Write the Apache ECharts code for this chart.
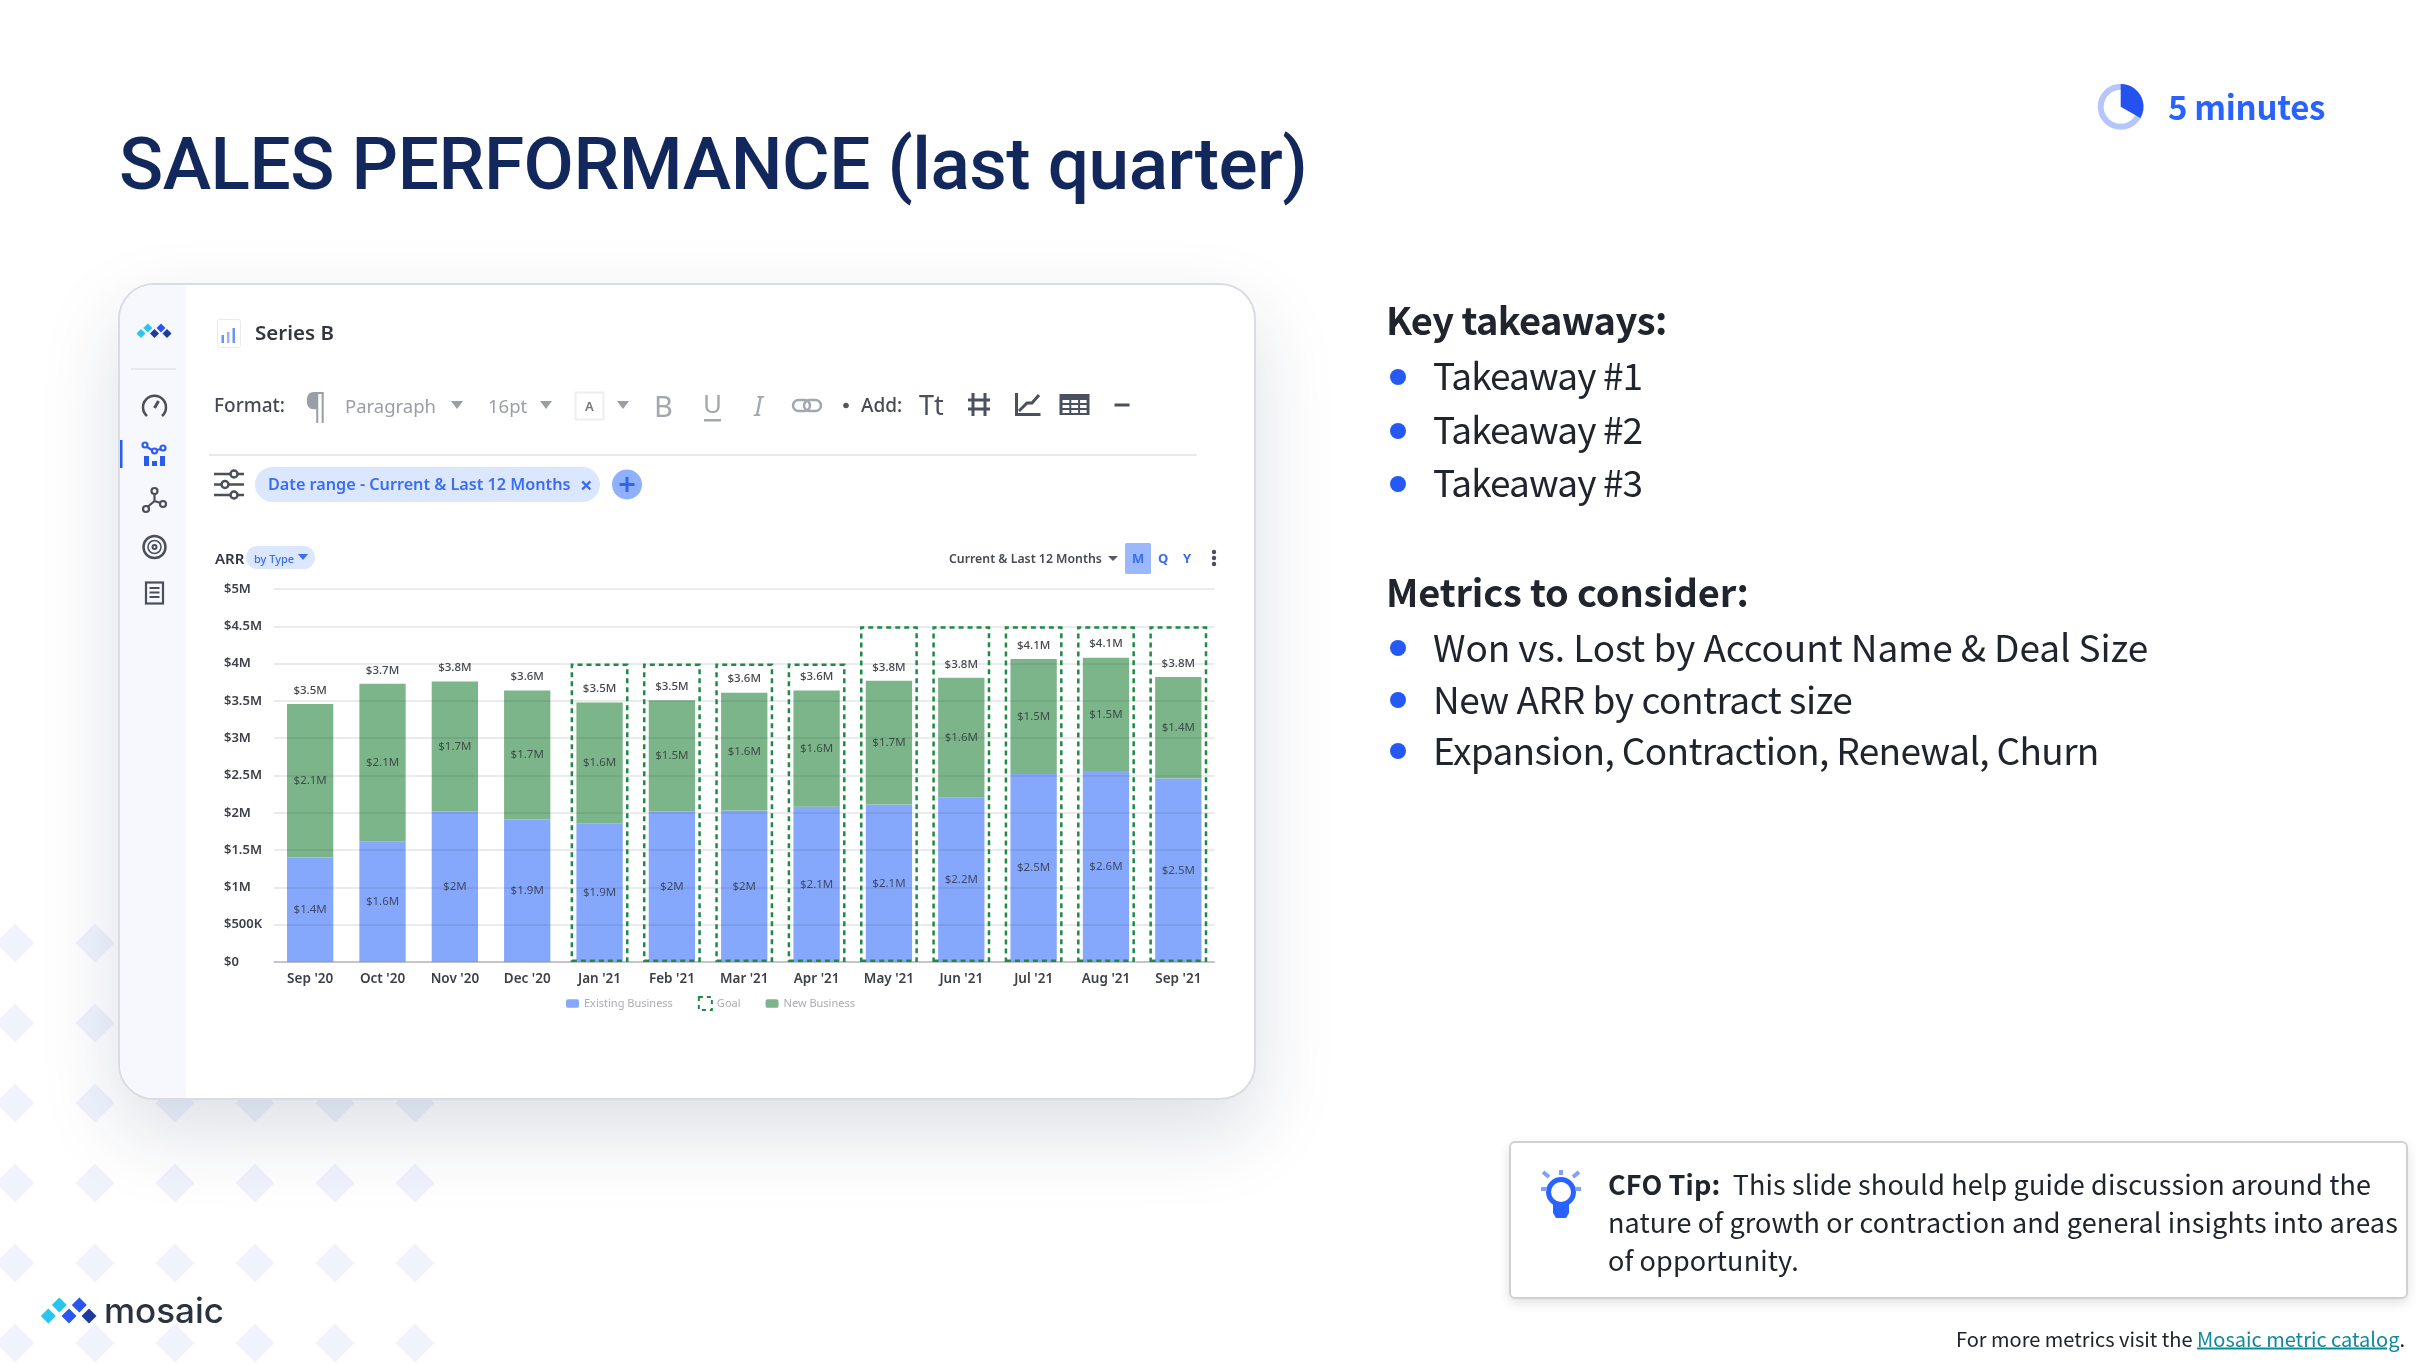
<!DOCTYPE html>
<html>
<head>
<meta charset="utf-8">
<title>Sales performance</title>
<script src="https://cdn.jsdelivr.net/npm/echarts@6/dist/echarts.min.js"></script>
<style>
html, body { margin: 0; padding: 0; background: #fff; }
body { position: relative; width: 2424px; height: 1364px; overflow: hidden; font-family: "Noto Sans CJK SC", "Noto Sans", sans-serif; color: #20242c; }
.abs { position: absolute; white-space: nowrap; }
.mid { transform: translateY(-50%); }
#bg, #icons, #chart { position: absolute; left: 0; top: 0; width: 2424px; height: 1364px; }
#card { position: absolute; left: 118px; top: 283px; width: 1138px; height: 817px; box-sizing: border-box; background: #fff; border: 2px solid #d9dce2; border-radius: 36px; box-shadow: 0 32px 80px rgba(30, 40, 80, .15); overflow: hidden; }
#side { position: absolute; left: 0; top: 0; width: 66px; height: 100%; background: #f6f8fd; }
#shot { position: absolute; left: 0; top: 0; width: 2424px; height: 1364px; filter: blur(.55px); font-family: "Noto Sans", sans-serif; }
h1 { margin: 0; left: 119px; top: 124px; font: 500 73px/80px Roboto, sans-serif; color: #12275c; letter-spacing: -.5px; }
.head { font-size: 38px; font-weight: 700; left: 1386px; color: #20242c; }
.item { font-size: 37px; left: 1433px; }
#mins { left: 2168px; top: 106px; font-size: 33px; font-weight: 700; color: #2962ff; letter-spacing: -.3px; }
#tip { position: absolute; left: 1509px; top: 1141px; width: 899px; height: 158px; box-sizing: border-box; background: #fff; border: 2px solid #cfd1d4; border-radius: 6px; box-shadow: 0 4px 12px rgba(0, 0, 0, .12); }
.tipline { left: 1608px; font-size: 27px; letter-spacing: .12px; }
#foot { right: 19px; top: 1338px; font-size: 20px; }
#foot a { color: #0f8a9d; text-decoration: underline; }
#brand { left: 104px; top: 1310px; font: 500 35px Inter, sans-serif; color: #2b3240; }
.grey { color: #9a9ea6; }
.dark { color: #464a52; }
</style>
</head>
<body>
<svg id="bg"></svg>
<div id="card"><div id="side"></div></div>

<div id="shot">
  <svg id="icons" viewBox="0 0 2424 1364">
    <!-- sidebar -->
    <g id="sideLogo"></g>
    <line x1="131" y1="369" x2="176" y2="369" stroke="#e6e8ee" stroke-width="2"/>
    <g fill="none" stroke="#4a4f5a" stroke-width="2.5">
      <path d="M147 416a11.500 11.500 0 1 1 15 0"/>
      <path d="M154.500 408l4-7" stroke-width="3"/>
    </g>
    <rect x="120" y="440" width="2.500" height="28" fill="#2b5cf0"/>
    <g fill="none" stroke="#2b5cf0" stroke-width="2.200">
      <circle cx="145" cy="445" r="2.500"/><circle cx="154.500" cy="451" r="2.500"/><circle cx="163" cy="448" r="2.500"/>
      <path d="M147 447l5 3M157 450l4-1"/>
    </g>
    <g fill="#2b5cf0"><rect x="144" y="456" width="5" height="10"/><rect x="152" y="461" width="5" height="5"/><rect x="160" y="456" width="5" height="10"/></g>
    <g fill="none" stroke="#4a4f5a" stroke-width="2.200">
      <circle cx="154.500" cy="491" r="3"/><circle cx="146" cy="509" r="3"/><circle cx="163" cy="504" r="3"/>
      <path d="M154.500 494v7l-7 6M154.500 501l6 2"/>
    </g>
    <g fill="none" stroke="#4a4f5a">
      <circle cx="154.500" cy="547" r="11" stroke-width="2.500"/><circle cx="154.500" cy="547" r="6.500" stroke-width="1.500"/><circle cx="154.500" cy="547" r="2" stroke-width="2"/>
      <rect x="146" y="582.500" width="17" height="21" stroke-width="2.200"/>
      <path d="M149.500 588h10M149.500 592.500h10M149.500 597h10" stroke-width="1.800"/>
    </g>
    <!-- header icon -->
    <rect x="217.500" y="319.500" width="23" height="28" rx="2" fill="#fff" stroke="#e9ebef"/>
    <g fill="#6d92f5"><rect x="221.500" y="335" width="2.500" height="8"/><rect x="232.500" y="328" width="2.500" height="15"/></g>
    <rect x="227" y="332" width="2.500" height="11" fill="#9ab3f8"/>
    <!-- toolbar -->
    <g fill="#9a9ea6">
      <path d="M451 401h12l-6 8zM540 401h12l-6 8zM617 401h12l-6 8z"/>
    </g>
    <rect x="575.500" y="392.500" width="28" height="27" fill="#fff" stroke="#eceef1" stroke-width="2"/>
    <rect x="704" y="419" width="17" height="2.500" fill="#a3a7ae"/>
    <g fill="none" stroke="#a3a7ae" stroke-width="2.500">
      <rect x="793" y="400" width="17" height="11" rx="5.500"/><rect x="804" y="400" width="17" height="11" rx="5.500"/>
    </g>
    <circle cx="846" cy="405.500" r="2.800" fill="#555"/>
    <g fill="none" stroke="#4a505c" stroke-width="3">
      <path d="M973 393v23M985 393v23M968 400h22M968 409h22"/>
      <path d="M1016.500 393v21.500h24M1019 411l8-8h5l7-8"/>
    </g>
    <g fill="#4a505c">
      <path d="M1059.500 394h30v21h-30zM1062.500 400v3h6.800v-3zM1071.300 400v3h6.800v-3zM1080.100 400v3h6.500v-3zM1062.500 405v3h6.800v-3zM1071.300 405v3h6.800v-3zM1080.100 405v3h6.500v-3zM1062.500 410v3h6.800v-3zM1071.300 410v3h6.800v-3zM1080.100 410v3h6.500v-3z" fill-rule="evenodd"/>
      <rect x="1114.500" y="403.500" width="15" height="3"/>
    </g>
    <line x1="209" y1="455" x2="1197" y2="455" stroke="#e8e9ec" stroke-width="2"/>
    <!-- filter row -->
    <g stroke="#4a4f5a" stroke-width="2.500" fill="#fff">
      <path d="M214 474h30M214 484.500h30M214 495h30"/>
      <circle cx="234" cy="474" r="3.500"/><circle cx="225" cy="484.500" r="3.500"/><circle cx="234" cy="495" r="3.500"/>
    </g>
    <rect x="255" y="467" width="345" height="35" rx="17.500" fill="#dbe6ff"/>
    <circle cx="627" cy="484.500" r="15" fill="#8fb0fd"/>
    <path d="M627 477v15M619.500 484.500h15" stroke="#2f63f0" stroke-width="3"/>
    <!-- ARR row -->
    <rect x="246" y="546" width="69" height="23" rx="11.500" fill="#dbe6ff"/>
    <path d="M298 554h10l-5 6z" fill="#3a6cf4"/>
    <path d="M1108 556h10l-5 5z" fill="#555a64"/>
    <rect x="1125" y="543" width="26" height="31" rx="1.500" fill="#9cb8fd"/>
    <g fill="#4a4f5a"><circle cx="1214" cy="552" r="2.200"/><circle cx="1214" cy="558" r="2.200"/><circle cx="1214" cy="564" r="2.200"/></g>
    <!-- top right clock -->
    <circle cx="2120.700" cy="106.700" r="20" fill="none" stroke="#b4c6fb" stroke-width="6"/>
    <path d="M2120.700 106.700V84a22.700 22.700 0 0 1 19.700 34z" fill="#2452ef"/>
  </svg>

  <div class="abs mid" style="left:255px;top:332px;font-size:20.500px;font-weight:600;color:#33363f">Series B</div>
  <div class="abs mid dark" style="left:214px;top:405px;font-size:19px;font-weight:500">Format:</div>
  <div class="abs mid grey" style="left:305px;top:405px;font-size:34px">¶</div>
  <div class="abs mid grey" style="left:345px;top:405px;font-size:18.500px">Paragraph</div>
  <div class="abs mid grey" style="left:488px;top:405px;font-size:18.500px">16pt</div>
  <div class="abs mid grey" style="left:585px;top:406px;font-size:13px;font-weight:600;color:#777">A</div>
  <div class="abs mid" style="left:654px;top:405px;font-size:29px;color:#a3a7ae">B</div>
  <div class="abs mid" style="left:703px;top:403px;font-size:26px;color:#a3a7ae">U</div>
  <div class="abs mid" style="left:754px;top:405px;font-size:27px;font-style:italic;color:#a3a7ae">I</div>
  <div class="abs mid dark" style="left:861px;top:405px;font-size:19px;font-weight:500">Add:</div>
  <div class="abs mid" style="left:919px;top:404px;font-size:27px;color:#4a505c">Tt</div>
  <div class="abs mid" style="left:268px;top:484px;font-size:16.200px;font-weight:600;color:#3a6cf4">Date range - Current &amp; Last 12 Months</div>
  <div class="abs mid" style="left:580px;top:484px;font-size:22px;font-weight:700;color:#3a6cf4">×</div>
  <div class="abs mid" style="left:215px;top:558px;font-size:15px;font-weight:600;color:#33363f">ARR</div>
  <div class="abs mid" style="left:254px;top:558px;font-size:11px;font-weight:500;color:#3a6cf4">by Type</div>
  <div class="abs mid dark" style="left:949px;top:558px;font-size:12.300px;font-weight:600">Current &amp; Last 12 Months</div>
  <div class="abs mid" style="left:1132px;top:558px;font-size:13px;font-weight:700;color:#3a6cf4">M</div>
  <div class="abs mid" style="left:1158px;top:558px;font-size:13px;font-weight:700;color:#3a6cf4">Q</div>
  <div class="abs mid" style="left:1183px;top:558px;font-size:13px;font-weight:700;color:#3a6cf4">Y</div>

  <div id="chart"></div>
</div>

<h1 class="abs">SALES PERFORMANCE (last quarter)</h1>
<div id="mins" class="abs mid">5 minutes</div>

<div class="abs mid head" style="top:318px;letter-spacing:-.6px">Key takeaways:</div>
<div class="abs mid item" style="top:374px;letter-spacing:-.9px">Takeaway #1</div>
<div class="abs mid item" style="top:428px;letter-spacing:-.9px">Takeaway #2</div>
<div class="abs mid item" style="top:481px;letter-spacing:-.9px">Takeaway #3</div>
<div class="abs mid head" style="top:590px;letter-spacing:-.2px">Metrics to consider:</div>
<div class="abs mid item" style="top:646px;letter-spacing:-.1px">Won vs. Lost by Account Name &amp; Deal Size</div>
<div class="abs mid item" style="top:698px;letter-spacing:-.46px">New ARR by contract size</div>
<div class="abs mid item" style="top:749px;letter-spacing:-.64px">Expansion, Contraction, Renewal, Churn</div>
<svg class="abs" style="left:0;top:0;width:2424px;height:1364px;pointer-events:none" viewBox="0 0 2424 1364">
  <g fill="#2459f5">
    <circle cx="1398" cy="377" r="8"/><circle cx="1398" cy="431" r="8"/><circle cx="1398" cy="484" r="8"/>
    <circle cx="1398" cy="648" r="8"/><circle cx="1398" cy="700" r="8"/><circle cx="1398" cy="751" r="8"/>
  </g>
</svg>

<div id="tip"></div>
<svg class="abs" style="left:0;top:0;width:2424px;height:1364px;pointer-events:none" viewBox="0 0 2424 1364">
  <circle cx="1561" cy="1192" r="12.500" fill="none" stroke="#2962ff" stroke-width="5"/>
  <path d="M1553 1203h16v10l-3 5h-10l-3-5z" fill="#2962ff"/>
  <path d="M1561 1170v5M1543 1172l6 5M1579 1172l-6 5M1541 1189h6M1581 1189h-6" stroke="#7fa0ff" stroke-width="4"/>
</svg>
<div class="abs mid tipline" style="top:1183px"><b>CFO Tip:</b>&nbsp; This slide should help guide discussion around the</div>
<div class="abs mid tipline" style="top:1221px">nature of growth or contraction and general insights into areas</div>
<div class="abs mid tipline" style="top:1259px">of opportunity.</div>
<div id="foot" class="abs mid">For more metrics visit the <a>Mosaic metric catalog</a>.</div>

<svg class="abs" style="left:0;top:0;width:2424px;height:1364px" viewBox="0 0 2424 1364" id="logo"></svg>
<div id="brand" class="abs mid">mosaic</div>

<script>
// chart values, in $M
const months = ["Sep '20", "Oct '20", "Nov '20", "Dec '20", "Jan '21", "Feb '21", "Mar '21", "Apr '21", "May '21", "Jun '21", "Jul '21", "Aug '21", "Sep '21"];
const existingBusiness = [1.40, 1.62, 2.02, 1.91, 1.86, 2.02, 2.03, 2.08, 2.11, 2.21, 2.52, 2.56, 2.46];
const newBusiness = [2.06, 2.11, 1.74, 1.73, 1.62, 1.49, 1.58, 1.56, 1.66, 1.60, 1.54, 1.52, 1.36];
const totals = [3.46, 3.73, 3.76, 3.64, 3.48, 3.51, 3.61, 3.64, 3.77, 3.81, 4.06, 4.08, 3.82];
const goal = [null, null, null, null, 4, 4, 4, 4, 4.5, 4.5, 4.5, 4.5, 4.5];
const yTicks = ['$0', '$500K', '$1M', '$1.5M', '$2M', '$2.5M', '$3M', '$3.5M', '$4M', '$4.5M', '$5M'];

const chartFont = '"Noto Sans", sans-serif';

function money(value) {
    return '$' + parseFloat(value.toFixed(1)) + 'M';
}

function barLabel(params) {
    return money(params.value);
}

// slide decoration, not data
function addDiamonds() {
    let parts = '';
    for (let y = 943; y <= 1343; y += 80) {
        for (let x = 15; x <= 415; x += 80) {
            parts += '<path d="M' + x + ' ' + (y - 19.5) + 'l19.5 19.5l-19.5 19.5l-19.5 -19.5z" fill="#f0f3fe"/>';
        }
    }
    document.getElementById('bg').innerHTML = parts;
}

function logoMarks(list, half) {
    return list.map(function (d) {
        return '<path d="M' + d[0] + ' ' + (d[1] - half) + 'l' + half + ' ' + half + 'l-' + half + ' ' + half + 'l-' + half + ' -' + half + 'z" fill="' + d[2] + '"/>';
    }).join('');
}

addDiamonds();
document.getElementById('logo').innerHTML = logoMarks([[59.3, 1305, '#27c6f0'], [48.3, 1316, '#27c6f0'], [79.3, 1305, '#2b55f0'], [69, 1316, '#2b55f0'], [89, 1316, '#1f3a9e']], 7.5);
document.getElementById('sideLogo').innerHTML = logoMarks([[147.8, 328, '#27c6f0'], [141, 333.5, '#27c6f0'], [161, 328, '#2b55f0'], [154.5, 333.5, '#1f3a9e'], [167, 333.5, '#1f3a9e']], 4.5);

const chart = echarts.init(document.getElementById('chart'));

const option = {
    animation: false,
    textStyle: {fontFamily: chartFont},
    legend: {
        left: 561,
        top: 991,
        itemWidth: 13,
        itemHeight: 13,
        itemGap: 25,
        selectedMode: false,
        textStyle: {color: '#aaadb4', fontSize: 11, fontFamily: chartFont},
        data: [
            {name: 'Existing Business', icon: 'path://M2 0h8a2 2 0 0 1 2 2v4a2 2 0 0 1-2 2h-8a2 2 0 0 1-2-2v-4a2 2 0 0 1 2-2z'},
            {name: 'Goal', icon: 'rect', itemStyle: {color: 'rgba(255,255,255,0)', borderColor: '#1f8a45', borderWidth: 2, borderType: [4, 4]}},
            {name: 'New Business', icon: 'path://M2 0h8a2 2 0 0 1 2 2v4a2 2 0 0 1-2 2h-8a2 2 0 0 1-2-2v-4a2 2 0 0 1 2-2z'}
        ]
    },
    grid: {left: 274, top: 589, width: 940.5, height: 373},
    xAxis: [{
        type: 'category',
        data: months,
        axisTick: {show: false},
        axisLine: {lineStyle: {color: '#c6c9ce', width: 1.5}},
        axisLabel: {color: '#3d4048', fontSize: 13.5, fontWeight: 600, margin: 10.5, fontFamily: chartFont}
    }, {
        type: 'category',
        data: months,
        show: false
    }],
    yAxis: [{
        type: 'value',
        min: 0,
        max: 5,
        interval: 0.5,
        z: 3,
        axisLine: {show: false},
        axisTick: {show: false},
        axisLabel: {
            color: '#3d4048',
            fontSize: 13,
            fontWeight: 600,
            align: 'left',
            margin: 50,
            fontFamily: chartFont,
            formatter: function (value) {
                return yTicks[Math.round(value / 0.5)];
            }
        },
        splitLine: {lineStyle: {color: 'rgba(40,44,52,0.13)', width: 1.5}}
    }, {
        type: 'value',
        min: 0,
        max: 5,
        interval: 0.5,
        show: false
    }],
    series: [{
        name: 'Existing Business',
        type: 'bar',
        stack: 'arr',
        barWidth: '64%',
        data: existingBusiness,
        itemStyle: {color: '#86a8fc'},
        label: {show: true, position: 'inside', formatter: barLabel, color: '#3f4a66', fontSize: 11.5}
    }, {
        name: 'New Business',
        type: 'bar',
        stack: 'arr',
        barWidth: '64%',
        data: newBusiness,
        itemStyle: {color: '#7db58a'},
        label: {show: true, position: 'inside', formatter: barLabel, color: '#3c4f46', fontSize: 11.5}
    }, {
        name: 'Goal',
        type: 'bar',
        xAxisIndex: 1,
        yAxisIndex: 1,
        barWidth: '80%',
        z: 4,
        data: goal,
        itemStyle: {color: 'rgba(255,255,255,0)', borderColor: '#1f8a45', borderWidth: 2.5, borderType: [5, 4]}
    }, {
        name: 'Total',
        type: 'line',
        data: totals,
        z: 5,
        symbol: 'circle',
        symbolSize: 1,
        itemStyle: {color: 'rgba(255,255,255,0)'},
        lineStyle: {opacity: 0},
        label: {show: true, position: 'top', distance: 7, formatter: barLabel, color: '#44474e', fontSize: 11.5, fontWeight: 500}
    }]
};

chart.setOption(option);
</script>
</body>
</html>
